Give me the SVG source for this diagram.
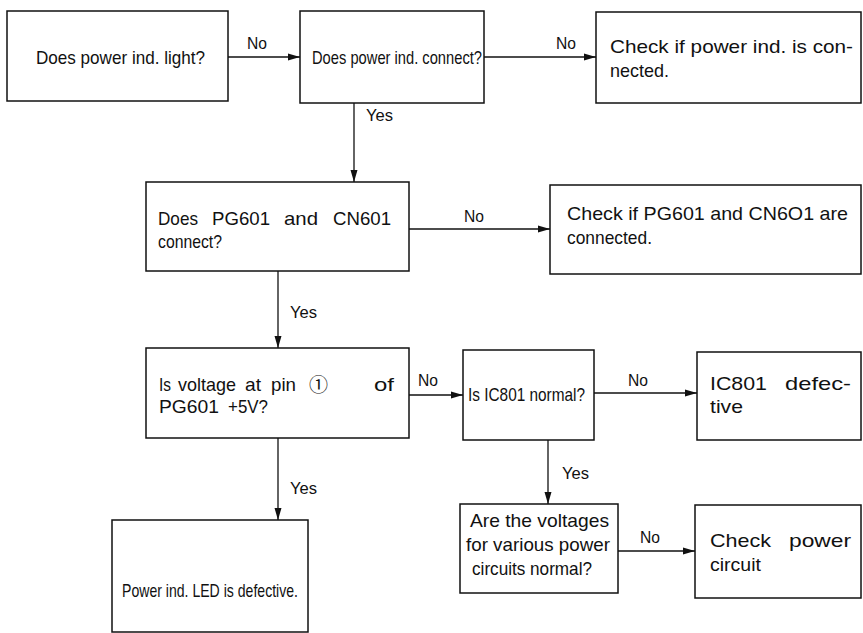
<svg xmlns="http://www.w3.org/2000/svg" width="863" height="633" viewBox="0 0 863 633">
<defs>
<style>
.box{fill:#fff;stroke:#111;stroke-width:1.5}
.t{font-family:"Liberation Sans",Arial,sans-serif;font-size:19px;fill:#111}
.l{font-family:"Liberation Sans",Arial,sans-serif;font-size:17px;fill:#111}
.big{font-family:"Noto Sans CJK JP","DejaVu Sans",sans-serif;font-size:19px}
.c{stroke:#111;stroke-width:1.3;fill:none}
</style>
<marker id="ah" viewBox="0 0 12 8" refX="12" refY="4" markerWidth="12" markerHeight="8" markerUnits="userSpaceOnUse" orient="auto"><path d="M0,0.5 L12,4 L0,7.5 Z" fill="#111"/></marker>
</defs>
<rect width="863" height="633" fill="#fff"/>
<g id="connectors">
<line class="c" x1="228" y1="57" x2="300" y2="57" marker-end="url(#ah)"/>
<text class="l" x="247" y="49" textLength="20" lengthAdjust="spacingAndGlyphs">No</text>
<line class="c" x1="484" y1="57" x2="596" y2="57" marker-end="url(#ah)"/>
<text class="l" x="556" y="49" textLength="20" lengthAdjust="spacingAndGlyphs">No</text>
<line class="c" x1="354" y1="103" x2="354" y2="182" marker-end="url(#ah)"/>
<text class="l" x="366" y="121" textLength="27" lengthAdjust="spacingAndGlyphs">Yes</text>
<line class="c" x1="409" y1="229" x2="550" y2="229" marker-end="url(#ah)"/>
<text class="l" x="464" y="222" textLength="20" lengthAdjust="spacingAndGlyphs">No</text>
<line class="c" x1="278" y1="271" x2="278" y2="348" marker-end="url(#ah)"/>
<text class="l" x="290" y="318" textLength="27" lengthAdjust="spacingAndGlyphs">Yes</text>
<line class="c" x1="409" y1="395" x2="463" y2="395" marker-end="url(#ah)"/>
<text class="l" x="418" y="386" textLength="20" lengthAdjust="spacingAndGlyphs">No</text>
<line class="c" x1="594" y1="393" x2="697" y2="393" marker-end="url(#ah)"/>
<text class="l" x="628" y="386" textLength="20" lengthAdjust="spacingAndGlyphs">No</text>
<line class="c" x1="278" y1="438" x2="278" y2="520" marker-end="url(#ah)"/>
<text class="l" x="290" y="494" textLength="27" lengthAdjust="spacingAndGlyphs">Yes</text>
<line class="c" x1="548" y1="440" x2="548" y2="504" marker-end="url(#ah)"/>
<text class="l" x="562" y="479" textLength="27" lengthAdjust="spacingAndGlyphs">Yes</text>
<line class="c" x1="618" y1="551" x2="695" y2="551" marker-end="url(#ah)"/>
<text class="l" x="640" y="543" textLength="20" lengthAdjust="spacingAndGlyphs">No</text>
</g>
<g id="n1"><rect class="box" x="7" y="11" width="221" height="90"/><text class="t" x="36" y="64" textLength="169" lengthAdjust="spacingAndGlyphs">Does power ind. light?</text></g>
<g id="n2"><rect class="box" x="300" y="11" width="184" height="92"/><text class="t" x="312" y="64" textLength="170" lengthAdjust="spacingAndGlyphs">Does power ind. connect?</text></g>
<g id="n3"><rect class="box" x="596" y="12" width="265" height="91"/><text class="t" x="610" y="53" textLength="243" lengthAdjust="spacingAndGlyphs">Check if power ind. is con-</text><text class="t" x="610" y="77" textLength="59" lengthAdjust="spacingAndGlyphs">nected.</text></g>
<g id="n4"><rect class="box" x="146" y="182" width="263" height="89"/>
<text class="t" y="225"><tspan x="158" textLength="40" lengthAdjust="spacingAndGlyphs">Does</tspan><tspan x="212" textLength="58" lengthAdjust="spacingAndGlyphs">PG601</tspan><tspan x="284" textLength="34" lengthAdjust="spacingAndGlyphs">and</tspan><tspan x="333" textLength="58" lengthAdjust="spacingAndGlyphs">CN601</tspan></text>
<text class="t" x="158" y="248" textLength="64" lengthAdjust="spacingAndGlyphs">connect?</text></g>
<g id="n5"><rect class="box" x="550" y="185" width="311" height="89"/><text class="t" x="567" y="220" textLength="281" lengthAdjust="spacingAndGlyphs">Check if PG601 and CN6O1 are</text><text class="t" x="567" y="244" textLength="85" lengthAdjust="spacingAndGlyphs">connected.</text></g>
<g id="n6"><rect class="box" x="146" y="348" width="263" height="90"/>
<text class="t" y="391"><tspan x="159" textLength="12" lengthAdjust="spacingAndGlyphs">Is</tspan><tspan x="178" textLength="58" lengthAdjust="spacingAndGlyphs">voltage</tspan><tspan x="245" textLength="16" lengthAdjust="spacingAndGlyphs">at</tspan><tspan x="271" textLength="25" lengthAdjust="spacingAndGlyphs">pin</tspan><tspan class="big" x="309" y="392">①</tspan><tspan x="374" y="391" textLength="20" lengthAdjust="spacingAndGlyphs">of</tspan></text>
<text class="t" y="413"><tspan x="159" textLength="60" lengthAdjust="spacingAndGlyphs">PG601</tspan><tspan x="228" textLength="40" lengthAdjust="spacingAndGlyphs">+5V?</tspan></text></g>
<g id="n7"><rect class="box" x="463" y="350" width="131" height="90"/><text class="t" x="468" y="401" textLength="117" lengthAdjust="spacingAndGlyphs">Is IC801 normal?</text></g>
<g id="n8"><rect class="box" x="697" y="352" width="164" height="88"/>
<text class="t" y="390"><tspan x="710" textLength="57" lengthAdjust="spacingAndGlyphs">IC801</tspan><tspan x="785" textLength="66" lengthAdjust="spacingAndGlyphs">defec-</tspan></text>
<text class="t" x="710" y="413" textLength="33" lengthAdjust="spacingAndGlyphs">tive</text></g>
<g id="n9"><rect class="box" x="112" y="520" width="196" height="112"/><text class="t" x="122" y="597" textLength="176" lengthAdjust="spacingAndGlyphs">Power ind. LED is defective.</text></g>
<g id="n10"><rect class="box" x="460" y="504" width="158" height="89"/><text class="t" x="470" y="527" textLength="139" lengthAdjust="spacingAndGlyphs">Are the voltages</text><text class="t" x="466" y="551" textLength="144" lengthAdjust="spacingAndGlyphs">for various power</text><text class="t" x="472" y="575" textLength="120" lengthAdjust="spacingAndGlyphs">circuits normal?</text></g>
<g id="n11"><rect class="box" x="695" y="505" width="166" height="93"/>
<text class="t" y="547"><tspan x="710" textLength="61" lengthAdjust="spacingAndGlyphs">Check</tspan><tspan x="789" textLength="62" lengthAdjust="spacingAndGlyphs">power</tspan></text>
<text class="t" x="710" y="571" textLength="51" lengthAdjust="spacingAndGlyphs">circuit</text></g>
</svg>
